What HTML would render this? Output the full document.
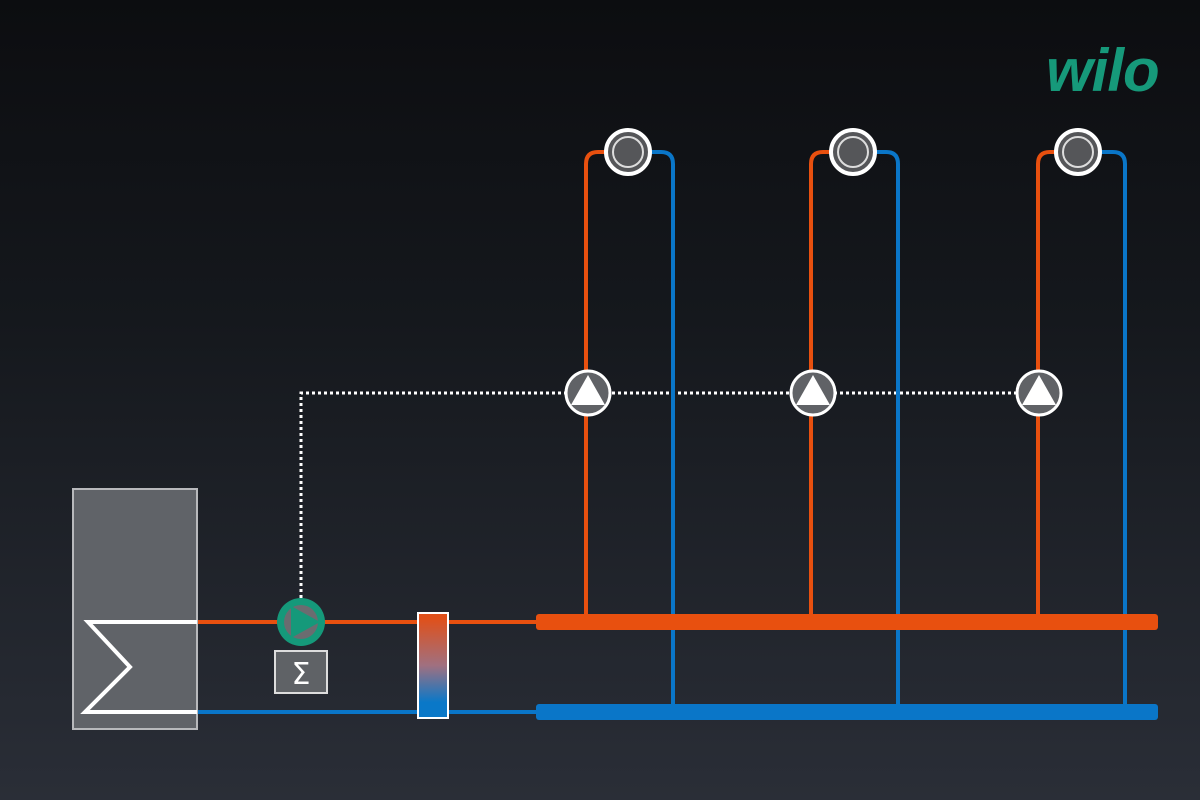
<!DOCTYPE html>
<html><head><style>
html,body{margin:0;padding:0;width:1200px;height:800px;overflow:hidden}
body{background:linear-gradient(#0c0d10 0%,#15181d 40%,#2a2e37 100%)}
svg{display:block}
</style></head><body>
<svg width="1200" height="800" viewBox="0 0 1200 800" xmlns="http://www.w3.org/2000/svg">
<defs>
<linearGradient id="g" x1="0" y1="0" x2="0" y2="1">
<stop offset="0.05" stop-color="#e0501a"/><stop offset="0.5" stop-color="#a07080"/><stop offset="0.85" stop-color="#0a78c8"/>
</linearGradient>
</defs>
<text x="1046" y="91" font-family="Liberation Sans, sans-serif" font-weight="bold" font-style="italic" font-size="60" fill="#16997a" letter-spacing="-1">wilo</text>
<path d="M301,598 V393 H1040" fill="none" stroke="#ffffff" stroke-width="3" stroke-dasharray="3,3"/>
<line x1="197" y1="622" x2="540" y2="622" stroke="#e8500f" stroke-width="4"/>
<line x1="197" y1="712" x2="540" y2="712" stroke="#0a76c8" stroke-width="4"/>
<g fill="none" stroke-width="4">
<path d="M586,614 V164 Q586,152 598,152 H610" stroke="#e8500f"/>
<path d="M673,712 V164 Q673,152 661,152 H646" stroke="#0a76c8"/>
<path d="M811,614 V164 Q811,152 823,152 H835" stroke="#e8500f"/>
<path d="M898,712 V164 Q898,152 886,152 H871" stroke="#0a76c8"/>
<path d="M1038,614 V164 Q1038,152 1050,152 H1060" stroke="#e8500f"/>
<path d="M1125,712 V164 Q1125,152 1113,152 H1096" stroke="#0a76c8"/>
</g>
<rect x="536" y="614" width="622" height="16" rx="3" fill="#e8500f"/>
<rect x="536" y="704" width="622" height="16" rx="3" fill="#0a76c8"/>
<g>
<circle cx="628" cy="152" r="22" fill="#555659" stroke="#fff" stroke-width="4"/><circle cx="628" cy="152" r="15" fill="#555659" stroke="#ddd" stroke-width="2"/>
<circle cx="853" cy="152" r="22" fill="#555659" stroke="#fff" stroke-width="4"/><circle cx="853" cy="152" r="15" fill="#555659" stroke="#ddd" stroke-width="2"/>
<circle cx="1078" cy="152" r="22" fill="#555659" stroke="#fff" stroke-width="4"/><circle cx="1078" cy="152" r="15" fill="#555659" stroke="#ddd" stroke-width="2"/>
</g>
<g>
<circle cx="588" cy="393" r="22" fill="#606266" stroke="#fff" stroke-width="3"/><polygon points="588,375 605,405 571,405" fill="#fff"/>
<circle cx="813" cy="393" r="22" fill="#606266" stroke="#fff" stroke-width="3"/><polygon points="813,375 830,405 796,405" fill="#fff"/>
<circle cx="1039" cy="393" r="22" fill="#606266" stroke="#fff" stroke-width="3"/><polygon points="1039,375 1056,405 1022,405" fill="#fff"/>
</g>
<rect x="73" y="489" width="124" height="240" fill="#606368" stroke="#b8b9bc" stroke-width="2"/>
<polyline points="197,622 88,622 130,667 85,712 197,712" fill="none" stroke="#fff" stroke-width="4"/>
<circle cx="301" cy="622" r="24" fill="#15997a"/>
<circle cx="301" cy="622" r="17" fill="#6a6c70"/>
<polygon points="291,606 320,622 291,638" fill="#15997a"/>
<rect x="275" y="651" width="52" height="42" fill="#5f6266" stroke="#ddd" stroke-width="2"/>
<text x="301" y="684" text-anchor="middle" font-family="DejaVu Sans, sans-serif" font-size="30" fill="#fff">Σ</text>
<rect x="418" y="613" width="30" height="105" fill="url(#g)" stroke="#fff" stroke-width="2"/>
</svg>
</body></html>
